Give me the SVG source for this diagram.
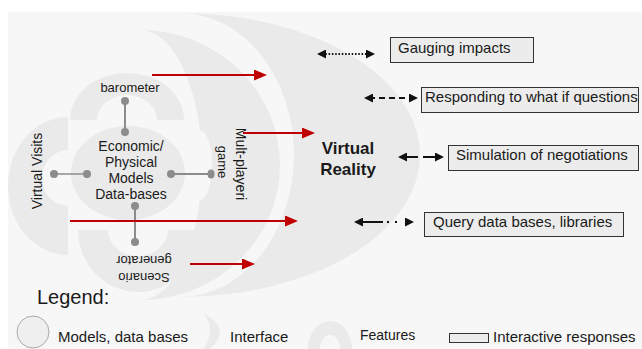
<svg xmlns="http://www.w3.org/2000/svg" width="642" height="349" viewBox="0 0 642 349">
<defs>
<style>
.bg{fill:#f7f7f7}
.sh{fill:#eaeaea}
.t{font-family:"Liberation Sans",Arial,sans-serif;fill:#1a1a1a}
.s13{font-size:13px}
.s14{font-size:14px}
.s15{font-size:15px}
.box{fill:#ececec;stroke:#333;stroke-width:1}
.red{stroke:#c00000;stroke-width:2;fill:none;marker-end:url(#rh)}
.blk{stroke:#111;stroke-width:2;fill:none;marker-start:url(#bh);marker-end:url(#bh)}
.gc{stroke:#8c8c8c;fill:none}
.dot{fill:#8c8c8c}
</style>
<marker id="rh" markerUnits="userSpaceOnUse" markerWidth="13" markerHeight="11" refX="6" refY="5.5" orient="auto"><path d="M0,0 L13,5.5 L0,11 Z" fill="#c00000"/></marker>
<marker id="bh" markerUnits="userSpaceOnUse" markerWidth="9" markerHeight="9" refX="4" refY="4.5" orient="auto-start-reverse"><path d="M0,0 L9,4.5 L0,9 Z" fill="#111"/></marker>
</defs>
<rect x="0" y="0" width="642" height="349" fill="#ffffff"/>
<rect class="bg" x="8" y="12" width="634" height="337"/>

<g id="vr-interface">
<path class="sh" d="M180,13 A240,142 0 0 1 180,297 A114,142 0 0 0 180,13 Z"/>
<text class="t" x="348" y="154" font-size="17" font-weight="bold" text-anchor="middle">Virtual</text>
<text class="t" x="348" y="175" font-size="17" font-weight="bold" text-anchor="middle">Reality</text>
</g>
<g id="outer-interface">
<path class="sh" d="M140,30 A140,135 0 0 1 140,300 A62,135 0 0 0 140,30 Z"/>
</g>

<g id="barometer">
<path class="sh" d="M70,120 A57,47 0 0 1 184,120 L157,120 A30,25 0 0 0 97,120 Z"/>
<text class="t s13" x="130" y="92" text-anchor="middle">barometer</text>
</g>
<g id="virtual-visits">
<path class="sh" d="M68,117 A60,69 0 0 0 68,255 L68,206 A26,28 0 0 1 68,150 Z"/>
<text class="t s14" transform="translate(42,171) rotate(-90)" text-anchor="middle">Virtual Visits</text>
</g>
<g id="models">
<ellipse class="sh" cx="128" cy="173" rx="57" ry="47"/>
<text class="t s14" x="131" y="151" text-anchor="middle">Economic/</text>
<text class="t s14" x="131" y="167" text-anchor="middle">Physical</text>
<text class="t s14" x="131" y="183" text-anchor="middle">Models</text>
<text class="t s14" x="131" y="199" text-anchor="middle">Data-bases</text>
</g>
<g id="scenario">
<path class="sh" d="M78,230 A60,62 0 0 0 198,230 L168,230 A30,26 0 0 1 108,230 Z"/>
<text class="t s13" transform="translate(144,272.5) rotate(180)" text-anchor="middle">Scenario</text>
<text class="t s13" transform="translate(144,256) rotate(180)" text-anchor="middle">generator</text>
</g>
<g id="multiplayer">
<path class="sh" d="M200,107 A58,58 0 0 1 200,223 L200,200 A12,35 0 0 0 200,130 Z"/>
<path class="bg" d="M200,130 A12,35 0 0 1 200,200 Z"/>
<text class="t s14" transform="translate(236,164) rotate(90)" text-anchor="middle">Mult-playeri</text>
<text class="t s13" transform="translate(218,162) rotate(90)" text-anchor="middle">game</text>
</g>

<g id="gauging">
<rect class="box" x="390.5" y="37.5" width="143" height="25"/>
<text class="t s15" x="398" y="53">Gauging impacts</text>
</g>
<g id="responding">
<rect class="box" x="421.5" y="87.5" width="217" height="25"/>
<text class="t s15" x="425" y="102">Responding to what if questions</text>
</g>
<g id="simulation">
<rect class="box" x="448.5" y="145.5" width="190" height="25"/>
<text class="t s15" x="456" y="160">Simulation of negotiations</text>
</g>
<g id="query">
<rect class="box" x="424.5" y="212.5" width="199" height="24"/>
<text class="t s15" x="433" y="227">Query data bases, libraries</text>
</g>

<g id="connectors">
<line class="gc" x1="125" y1="101" x2="125" y2="132" stroke-width="2"/>
<ellipse class="dot" cx="125" cy="101" rx="4" ry="4"/>
<ellipse class="dot" cx="125" cy="132" rx="4" ry="4"/>
<line class="gc" x1="54" y1="174" x2="87" y2="174" stroke-width="1.5"/>
<ellipse class="dot" cx="54" cy="174" rx="4" ry="4"/>
<ellipse class="dot" cx="87" cy="174" rx="4" ry="4"/>
<line class="gc" x1="171" y1="174" x2="211" y2="174" stroke-width="2"/>
<ellipse class="dot" cx="171" cy="174" rx="4" ry="4"/>
<ellipse class="dot" cx="211" cy="174" rx="3.5" ry="4.5"/>
<line class="gc" x1="135" y1="206" x2="135" y2="242" stroke-width="2"/>
<ellipse class="dot" cx="135" cy="206" rx="4" ry="4"/>
<ellipse class="dot" cx="135" cy="242" rx="4" ry="4"/>

<path class="red" d="M152,75 H260"/>
<path class="red" d="M243,133 H308"/>
<path class="red" d="M70,221 H291"/>
<path class="red" d="M190,264 H248"/>

<path class="blk" d="M322,54 H370" stroke-width="1.5" stroke-dasharray="1.5 1.8"/>
<path class="blk" d="M369,98 H413" stroke-dasharray="6 4"/>
<path class="blk" d="M403,157 H418 M423,157 H439"/>
<path class="blk" d="M359,222 H383 M387,222 H389 M395,222 H397 M405,222 H409"/>
</g>

<g id="legend">
<text class="t" x="37" y="304" font-size="20">Legend:</text>
<circle cx="33" cy="332" r="16" fill="#efefef" stroke="#aaaaaa" stroke-width="1"/>
<text class="t s15" x="58" y="342">Models, data bases</text>
<path class="sh" d="M204,313 Q232,330 210,349 L204,349 Q216,330 204,313 Z"/>
<text class="t s15" x="230" y="342">Interface</text>
<path class="sh" d="M308,349 A22,28 0 0 1 352,349 L340,349 A10,14 0 0 0 320,349 Z"/>
<text class="t s14" x="360" y="340">Features</text>
<rect class="box" x="449.5" y="333.5" width="39" height="9"/>
<text class="t s15" x="493" y="342">Interactive responses</text>
</g>
</svg>
